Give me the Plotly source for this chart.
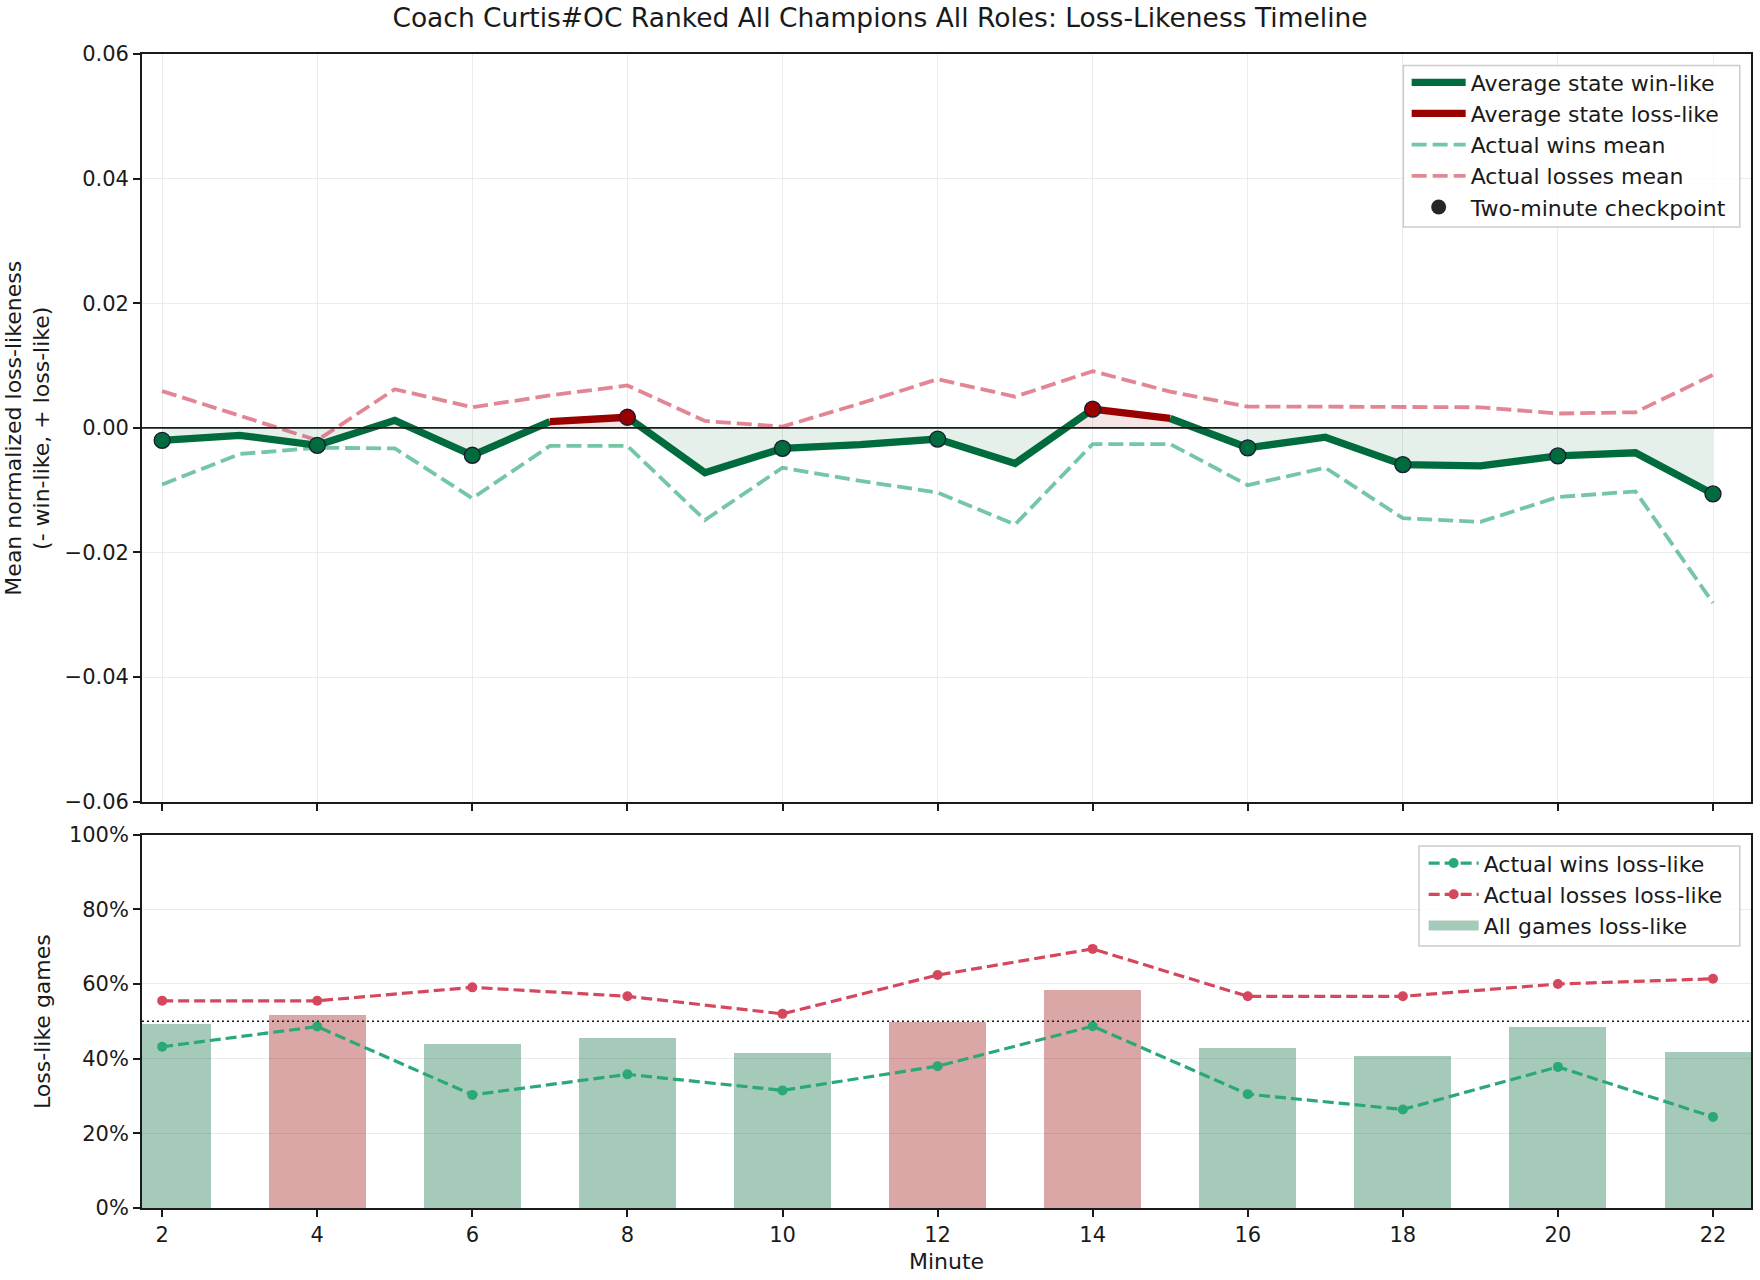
import plotly.graph_objects as go

# ---------------- data ----------------
minutes = list(range(2, 23))
avg_state = [-0.0020, -0.0012, -0.0028, 0.0012, -0.0044, 0.0010, 0.0017, -0.0072, -0.0033, -0.0027,
             -0.0018, -0.0057, 0.0030, 0.0015, -0.0032, -0.0015, -0.0059, -0.0061, -0.0045, -0.0040, -0.0106]
wins_mean = [-0.0091, -0.0042, -0.0032, -0.0033, -0.0113, -0.0029, -0.0029, -0.0148, -0.0064, -0.0085,
             -0.0104, -0.0155, -0.0026, -0.0026, -0.0092, -0.0064, -0.0145, -0.0151, -0.0111, -0.0102, -0.0281]
losses_mean = [0.0059, 0.0020, -0.0020, 0.0062, 0.0033, 0.0052, 0.0068, 0.0011, 0.0002, 0.0039,
               0.0078, 0.0050, 0.0091, 0.0058, 0.0034, 0.0034, 0.0034, 0.0033, 0.0023, 0.0025, 0.0085]

checkpoint_minutes = [2, 4, 6, 8, 10, 12, 14, 16, 18, 20, 22]
wins_loss_like = [43.2, 48.6, 30.3, 35.8, 31.5, 38.0, 48.7, 30.5, 26.4, 37.8, 24.4]
losses_loss_like = [55.5, 55.5, 59.1, 56.7, 52.0, 62.4, 69.4, 56.7, 56.7, 60.0, 61.4]
all_loss_like = [49.3, 51.9, 44.1, 45.7, 41.5, 50.0, 58.5, 43.0, 40.9, 48.7, 42.0]

top_ticks = [-0.06, -0.04, -0.02, 0.0, 0.02, 0.04, 0.06]
top_ticktext = ["\u22120.06", "\u22120.04", "\u22120.02", "0.00", "0.02", "0.04", "0.06"]
pct_ticks = [0, 20, 40, 60, 80, 100]
pct_ticktext = ["0%", "20%", "40%", "60%", "80%", "100%"]

TITLE = "Coach Curtis#OC Ranked All Champions All Roles: Loss-Likeness Timeline"

# ---------------- styles ----------------
GREEN = "#006b3c"
RED = "#990000"
WIN_C = "#2aa876"
LOSS_C = "#d4475c"
FONT = "DejaVu Sans"
FS = 21
LFS = 22
AFS = 22

L, R, T, B = 142.4, 7.4, 53.5, 71.7
W, H = 1760, 1280
ph = H - T - B
pw = W - L - R
def py(pix):
    return (H - B - pix) / ph
def px(pix):
    return (pix - L) / pw

fig = go.Figure()

# ---- fill between avg state and zero (with zero crossings) ----
fx, fy = [], []
for i in range(len(minutes)):
    fx.append(minutes[i]); fy.append(avg_state[i])
    if i < len(minutes) - 1:
        y0, y1 = avg_state[i], avg_state[i + 1]
        if y0 * y1 < 0:
            xc = minutes[i] + (0 - y0) * (minutes[i + 1] - minutes[i]) / (y1 - y0)
            fx.append(xc); fy.append(0.0)
fig.add_trace(go.Scatter(x=fx, y=[min(v, 0) for v in fy], mode="lines", line=dict(width=0),
                         fill="tozeroy", fillcolor="rgba(0,104,55,0.10)", showlegend=False,
                         hoverinfo="skip", xaxis="x", yaxis="y"))
fig.add_trace(go.Scatter(x=fx, y=[max(v, 0) for v in fy], mode="lines", line=dict(width=0),
                         fill="tozeroy", fillcolor="rgba(153,0,0,0.10)", showlegend=False,
                         hoverinfo="skip", xaxis="x", yaxis="y"))

# ---- dashed means ----
fig.add_trace(go.Scatter(x=minutes, y=wins_mean, mode="lines", name="Actual wins mean",
                         line=dict(color=WIN_C, width=3.8, dash="15px,6px"), opacity=0.65,
                         legend="legend3", xaxis="x", yaxis="y"))
fig.add_trace(go.Scatter(x=minutes, y=losses_mean, mode="lines", name="Actual losses mean",
                         line=dict(color=LOSS_C, width=3.8, dash="15px,6px"), opacity=0.65,
                         legend="legend4", xaxis="x", yaxis="y"))

# ---- avg state line, coloured by segment ----
seg_red = [(avg_state[i] + avg_state[i + 1]) / 2 > 0 for i in range(len(minutes) - 1)]
runs = []
start = 0
for i in range(1, len(seg_red) + 1):
    if i == len(seg_red) or seg_red[i] != seg_red[start]:
        runs.append((start, i, seg_red[start]))
        start = i
gx, gy, rx, ry = [], [], [], []
for s, e, is_red in runs:
    xs = minutes[s:e + 1]
    ys = avg_state[s:e + 1]
    if is_red:
        rx += xs + [None]; ry += ys + [None]
    else:
        gx += xs + [None]; gy += ys + [None]
fig.add_trace(go.Scatter(x=gx, y=gy, mode="lines", name="Average state win-like",
                         line=dict(color=GREEN, width=7.3), legend="legend",
                         xaxis="x", yaxis="y"))
fig.add_trace(go.Scatter(x=rx, y=ry, mode="lines", name="Average state loss-like",
                         line=dict(color=RED, width=7.3), legend="legend2",
                         xaxis="x", yaxis="y"))

# ---- checkpoints ----
cp_vals = [avg_state[minutes.index(m)] for m in checkpoint_minutes]
fig.add_trace(go.Scatter(x=checkpoint_minutes, y=cp_vals, mode="markers", showlegend=False,
                         marker=dict(size=16, color=[RED if v > 0 else GREEN for v in cp_vals],
                                     line=dict(color="#1a1a33", width=1.3)),
                         xaxis="x", yaxis="y"))
fig.add_trace(go.Scatter(x=[None], y=[None], mode="markers", name="Two-minute checkpoint",
                         marker=dict(size=15, color="#262626"), legend="legend5",
                         xaxis="x", yaxis="y"))

# ---------------- bottom panel ----------------
fig.add_trace(go.Bar(x=checkpoint_minutes, y=all_loss_like, width=1.25, showlegend=False,
                     marker=dict(color=["rgba(153,0,0,0.35)" if v >= 50 else "rgba(0,104,55,0.35)"
                                        for v in all_loss_like], line=dict(width=0)),
                     xaxis="x2", yaxis="y2"))
fig.add_trace(go.Scatter(x=checkpoint_minutes, y=wins_loss_like, mode="lines+markers",
                         name="Actual wins loss-like",
                         line=dict(color=WIN_C, width=3.2, dash="11px,5px"),
                         marker=dict(size=10, color=WIN_C),
                         legend="legend6", xaxis="x2", yaxis="y2"))
fig.add_trace(go.Scatter(x=checkpoint_minutes, y=losses_loss_like, mode="lines+markers",
                         name="Actual losses loss-like",
                         line=dict(color=LOSS_C, width=3.2, dash="11px,5px"),
                         marker=dict(size=10, color=LOSS_C),
                         legend="legend7", xaxis="x2", yaxis="y2"))
# legend proxy for bars (wide patch)
fig.add_trace(go.Scatter(x=[None], y=[None], mode="lines", name="All games loss-like",
                         line=dict(color="rgba(0,104,55,0.35)", width=15),
                         legend="legend8", xaxis="x2", yaxis="y2"))

# ---------------- layout ----------------
axis_common = dict(showline=True, linecolor="#1a1a1a", linewidth=1.7, mirror=True,
                   ticks="outside", ticklen=7, tickwidth=1.6, tickcolor="#1a1a1a",
                   tickfont=dict(family=FONT, size=FS, color="#1a1a1a"),
                   gridcolor="#ebebeb", gridwidth=1.4, zeroline=False)

def item_legend(x_pix, y_pix, iw):
    return dict(x=px(x_pix), xanchor="left", y=py(y_pix), yanchor="middle",
                bgcolor="rgba(0,0,0,0)", borderwidth=0,
                font=dict(family=FONT, size=LFS, color="#1a1a1a"),
                itemwidth=iw)

top_rows = [82, 113.2, 144.4, 175.6, 206.8]
bot_rows = [863.3, 894.6, 925.8]
legends = {}
for k, yy in enumerate(top_rows):
    name = "legend" if k == 0 else f"legend{k + 1}"
    legends[name] = item_legend(1408, yy, 54)
for k, yy in enumerate(bot_rows):
    legends[f"legend{k + 6}"] = item_legend(1425, yy, 50)

fig.update_layout(
    width=W, height=H,
    margin=dict(l=L, r=R, t=T, b=B, pad=0),
    paper_bgcolor="white", plot_bgcolor="white",
    font=dict(family=FONT, size=FS, color="#1a1a1a"),
    title=dict(text=TITLE, x=0.5, xref="container", xanchor="center",
               y=1 - 18 / H, yref="container", yanchor="middle",
               font=dict(family=FONT, size=26.5, color="#1a1a1a")),
    bargap=0,
    xaxis=dict(domain=[0, 1], anchor="y", range=[1.74, 22.49], tickvals=checkpoint_minutes,
               showticklabels=False, showgrid=True, matches="x2", **axis_common),
    yaxis=dict(domain=[py(801.7), 1], anchor="x", range=[-0.06, 0.06], tickvals=top_ticks,
               ticktext=top_ticktext, showgrid=True, **axis_common),
    xaxis2=dict(domain=[0, 1], anchor="y2", range=[1.74, 22.49], tickvals=checkpoint_minutes,
                ticktext=[str(m) for m in checkpoint_minutes], showgrid=False, **axis_common),
    yaxis2=dict(domain=[0, py(834.7)], anchor="x2", range=[0, 100], tickvals=pct_ticks,
                ticktext=pct_ticktext, showgrid=True, **axis_common),
    shapes=[
        dict(type="line", xref="x domain", yref="y", x0=0, x1=1, y0=0, y1=0,
             line=dict(color="#1a1a1a", width=1.7), layer="above"),
        dict(type="line", xref="x2 domain", yref="y2", x0=0, x1=1, y0=50, y1=50,
             line=dict(color="#1a1a1a", width=1.5, dash="2px,3px"), layer="above"),
        dict(type="rect", xref="paper", yref="paper", x0=px(1404.7), x1=px(1741.4),
             y0=py(226.7), y1=py(65), fillcolor="rgba(255,255,255,0.8)",
             line=dict(color="#cccccc", width=1.5), layer="above"),
        dict(type="rect", xref="paper", yref="paper", x0=px(1420.4), x1=px(1741.4),
             y0=py(946), y1=py(846), fillcolor="rgba(255,255,255,0.8)",
             line=dict(color="#cccccc", width=1.5), layer="above"),
    ],
    annotations=[
        dict(text="Mean normalized loss-likeness<br>(- win-like, + loss-like)", textangle=-90,
             xref="paper", yref="paper", x=px(28), y=py(427.7), xanchor="center", yanchor="middle",
             showarrow=False, font=dict(family=FONT, size=AFS, color="#1a1a1a")),
        dict(text="Loss-like games", textangle=-90,
             xref="paper", yref="paper", x=px(43), y=py(1021.5), xanchor="center", yanchor="middle",
             showarrow=False, font=dict(family=FONT, size=AFS, color="#1a1a1a")),
        dict(text="Minute", xref="paper", yref="paper", x=0.5, y=py(1261.7),
             xanchor="center", yanchor="middle", showarrow=False,
             font=dict(family=FONT, size=AFS, color="#1a1a1a")),
    ],
    **legends,
)

fig.write_html("out.html")
